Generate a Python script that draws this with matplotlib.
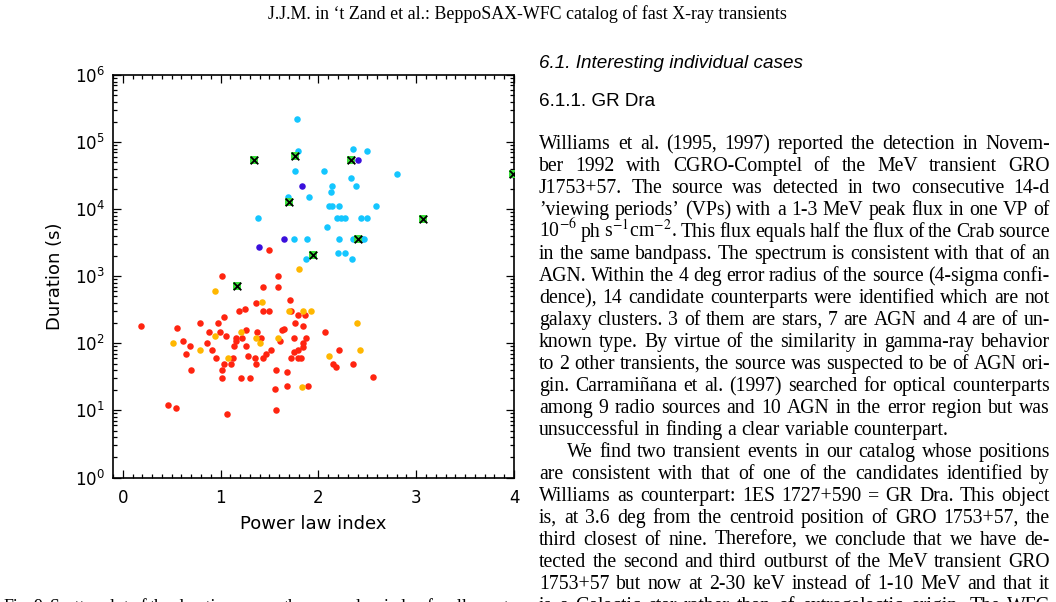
import matplotlib
matplotlib.use("Agg")
import matplotlib.pyplot as plt
from matplotlib.ticker import LogLocator, MultipleLocator, NullFormatter
import numpy as np

# power law index vs duration (s), one pair of lists per event class
red_idx = [1.50, 1.01, 1.59, 1.43, 1.59, 1.71, 1.36, 1.25, 1.19, 1.43,
           1.49, 1.72, 1.79, 1.86, 1.03, 0.79, 0.97, 1.76, 0.19, 0.55,
           1.26, 1.63, 1.65, 1.84, 2.07, 0.88, 0.99, 1.37, 1.06, 1.16,
           1.16, 1.22, 1.41, 1.61, 1.75, 1.87, 0.62, 1.84, 1.84, 0.69,
           0.86, 1.14, 1.26, 0.91, 1.52, 1.79, 2.21, 1.75, 0.65, 1.46,
           1.28, 0.95, 1.13, 1.35, 1.43, 1.72, 1.79, 1.82, 1.04, 1.11,
           1.36, 2.15, 2.18, 2.35, 0.70, 1.01, 1.57, 1.68, 1.01, 1.21,
           1.30, 2.56, 1.56, 1.68, 1.89, 0.46, 0.54, 1.57, 1.07]
red_dur = [2500, 1000, 1000, 700, 700, 450, 400, 330, 300, 300,
           300, 300, 260, 260, 250, 200, 200, 200, 180, 170,
           160, 160, 165, 180, 150, 150, 150, 150, 130, 120,
           110, 120, 120, 110, 120, 120, 110, 100, 89, 90,
           100, 90, 90, 80, 80, 80, 80, 75, 70, 70,
           65, 60, 60, 60, 60, 60, 60, 60, 50, 50,
           50, 50, 45, 50, 40, 40, 40, 38, 30, 30,
           30, 32, 21, 23, 23, 12, 11, 10, 8.9]

orange_idx = [1.80, 0.94, 1.42, 1.70, 1.84, 1.92, 2.39, 1.21, 0.94, 1.36,
              1.40, 1.59, 0.51, 0.79, 1.08, 2.43, 2.11, 1.83]
orange_dur = [1300, 600, 420, 300, 300, 300, 200, 150, 130, 120,
              100, 120, 100, 80, 60, 79, 65, 22]

cyan_idx = [1.78, 1.79, 2.35, 2.50, 1.76, 2.06, 2.33, 2.80, 2.14, 2.38,
            2.13, 1.69, 1.90, 2.11, 2.14, 2.21, 2.59, 1.38, 2.19, 2.23,
            2.27, 2.44, 2.50, 2.09, 1.75, 1.88, 2.21, 2.35, 2.45, 2.47,
            1.87, 2.20, 2.27, 2.34]
cyan_dur = [2.2e5, 7.3e4, 8.0e4, 7.3e4, 3.7e4, 3.7e4, 2.9e4, 3.3e4, 2.2e4, 2.2e4,
            1.8e4, 1.5e4, 1.5e4, 1.1e4, 1.1e4, 1.1e4, 1.1e4, 7.4e3, 7.4e3, 7.4e3,
            7.4e3, 7.4e3, 7.4e3, 5.4e3, 3.6e3, 3.6e3, 3.6e3, 3.6e3, 3.6e3, 3.6e3,
            1.8e3, 2.2e3, 2.2e3, 1.8e3]

violet_idx = [2.41, 1.83, 1.65, 1.39]
violet_dur = [5.5e4, 2.2e4, 3.6e3, 2.7e3]

green_idx = [1.34, 1.76, 2.33, 1.70, 3.99, 3.07, 2.40, 1.94, 1.17]
green_dur = [5.5e4, 6.2e4, 5.5e4, 1.3e4, 3.3e4, 7.2e3, 3.6e3, 2.1e3, 720]

xticks = [0, 1, 2, 3, 4]

header = "J.J.M. in \u2018t Zand et al.: BeppoSAX-WFC catalog of fast X-ray transients"
sec_title = "6.1. Interesting individual cases"
subsec_title = "6.1.1. GR Dra"
para1 = [
    "Williams et al. (1995, 1997) reported the detection in Novem-",
    "ber 1992 with CGRO-Comptel of the MeV transient GRO",
    "J1753+57. The source was detected in two consecutive 14-d",
    "\u2019viewing periods\u2019 (VPs) with a 1-3 MeV peak flux in one VP of",
    "10$^{-6}$ ph s$^{-1}$cm$^{-2}$. This flux equals half the flux of the Crab source",
    "in the same bandpass. The spectrum is consistent with that of an",
    "AGN. Within the 4 deg error radius of the source (4-sigma confi-",
    "dence), 14 candidate counterparts were identified which are not",
    "galaxy clusters. 3 of them are stars, 7 are AGN and 4 are of un-",
    "known type. By virtue of the similarity in gamma-ray behavior",
    "to 2 other transients, the source was suspected to be of AGN ori-",
    "gin. Carrami\u00f1ana et al. (1997) searched for optical counterparts",
    "among 9 radio sources and 10 AGN in the error region but was",
    "unsuccessful in finding a clear variable counterpart.",
]
para2 = [
    "We find two transient events in our catalog whose positions",
    "are consistent with that of one of the candidates identified by",
    "Williams as counterpart: 1ES 1727+590 = GR Dra. This object",
    "is, at 3.6 deg from the centroid position of GRO 1753+57, the",
    "third closest of nine. Therefore, we conclude that we have de-",
    "tected the second and third outburst of the MeV transient GRO",
    "1753+57 but now at 2-30 keV instead of 1-10 MeV and that it",
    "is a Galactic star rather than of extragalactic origin. The WFC",
]
caption = "Fig. 9. Scatter plot of the duration versus the power law index for all events"

W, H = 1056, 602
fig = plt.figure(figsize=(W / 100, H / 100), dpi=100)
fig.patch.set_facecolor("white")


def fpos(x, y):
    return x / W, 1 - y / H


# ---- chart ----
ax = fig.add_axes([113 / W, 1 - 477.5 / H, (514 - 113) / W, (477.5 - 75) / H])
ax.scatter(red_idx, red_dur, s=22, c="#ff2410", linewidths=0, zorder=3)
ax.scatter(orange_idx, orange_dur, s=22, c="#ffb700", linewidths=0, zorder=3)
ax.scatter(cyan_idx, cyan_dur, s=22, c="#14c6ff", linewidths=0, zorder=3)
ax.scatter(violet_idx, violet_dur, s=22, c="#3a0fdc", linewidths=0, zorder=3)
ax.scatter(green_idx, green_dur, s=36, marker="s", c="#3ce03c", linewidths=0, zorder=4)
ax.scatter(green_idx, green_dur, s=30, marker="x", c="black", linewidths=1.3, zorder=5)

ax.set_yscale("log")
ax.set_xlim(-0.1, 4.0)
ax.set_ylim(1, 1e6)
ax.set_xticks(xticks)
ax.xaxis.set_minor_locator(MultipleLocator(0.1))
ax.yaxis.set_major_locator(LogLocator(base=10, numticks=10))
ax.yaxis.set_minor_locator(LogLocator(base=10, subs=np.arange(2, 10), numticks=20))
ax.yaxis.set_minor_formatter(NullFormatter())
ax.tick_params(which="both", direction="in", top=True, right=True, width=0.9)
ax.tick_params(which="major", length=6, labelsize=12)
ax.tick_params(which="minor", length=3)
ax.tick_params(axis="x", pad=8)
ax.tick_params(axis="y", pad=6)
for sp in ax.spines.values():
    sp.set_linewidth(1.2)
ax.set_xlabel("Power law index", fontsize=13, labelpad=6)
ax.set_ylabel("Duration (s)", fontsize=13, labelpad=8)

# ---- page text ----
serif = "Liberation Serif"
sans = "Liberation Sans"
fig.text(*fpos(527, 19), header, fontsize=12.9, family=serif, ha="center", va="baseline")
fig.text(*fpos(539, 68), sec_title, fontsize=13.6, family=sans, style="italic", va="baseline")
fig.text(*fpos(539, 106), subsec_title, fontsize=13.6, family=sans, va="baseline")

renderer = fig.canvas.get_renderer()
body_fs = 14.2


def put_line(line, x0, x1, y, justify=True, fs=body_fs):
    words = line.split(" ")
    objs = [fig.text(0, 0, w, fontsize=fs, family=serif, math_fontfamily="stix",
                     va="baseline") for w in words]
    widths = [o.get_window_extent(renderer=renderer).width for o in objs]
    gap = fs * 100 / 72 * 0.25
    if justify and len(words) > 1:
        gap = max(gap * 0.6, (x1 - x0 - sum(widths)) / (len(words) - 1))
    x = x0
    for o, wd in zip(objs, widths):
        o.set_position(fpos(x, y))
        x += wd + gap


col_left, col_right = 539, 1050
line_h = 22.0
base0 = 149
row = 0
for paragraph, indent in ((para1, 0), (para2, 28)):
    for i, line in enumerate(paragraph):
        last = (i == len(paragraph) - 1) and paragraph is para1
        put_line(line, col_left + (indent if i == 0 else 0), col_right,
                 base0 + row * line_h, justify=not last)
        row += 1

put_line(caption, 3, 513, 612, fs=12.8)

fig.savefig("out.png", dpi=100)
